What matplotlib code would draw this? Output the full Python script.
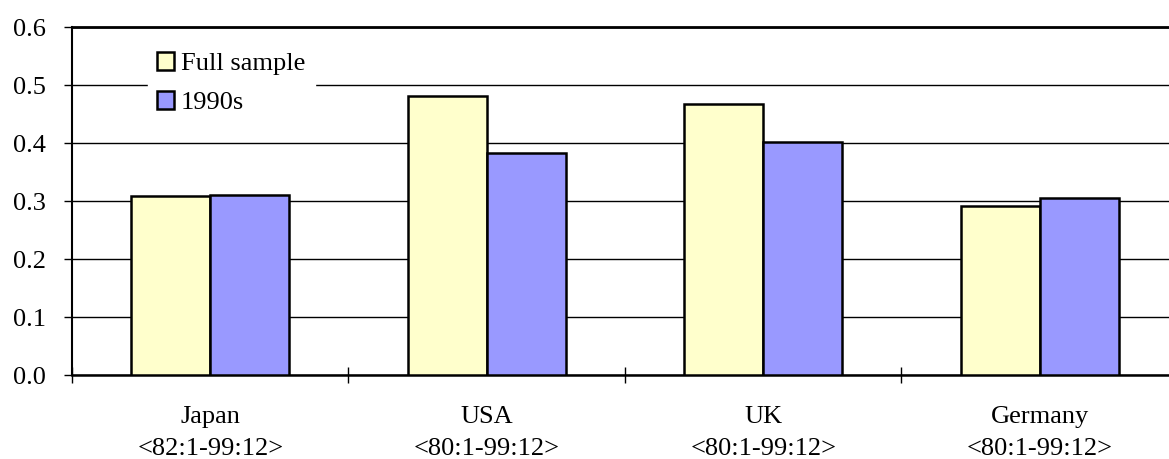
import matplotlib
matplotlib.use("Agg")
import matplotlib.pyplot as plt
import numpy as np

countries = ["Japan", "USA", "UK", "Germany"]
periods = ["<82:1-99:12>", "<80:1-99:12>", "<80:1-99:12>", "<80:1-99:12>"]
full_sample = [0.308, 0.481, 0.468, 0.292]
nineties = [0.310, 0.383, 0.402, 0.305]

plt.rcParams["font.family"] = ["Liberation Serif", "DejaVu Serif"]
FS = 19

fig = plt.figure(figsize=(11.69, 4.59), dpi=100)
ax = fig.add_axes([0.0616, 0.183, 0.946, 0.758])

x = np.arange(len(countries))
width = 0.286
ax.bar(x - width / 2, full_sample, width, color="#FFFFCC", edgecolor="black",
       linewidth=1.8, label="Full sample", zorder=3)
ax.bar(x + width / 2, nineties, width, color="#9999FF", edgecolor="black",
       linewidth=1.8, label="1990s", zorder=3)

ax.set_xlim(-0.5, len(countries) - 0.5)
ax.set_ylim(0, 0.6)
yt = np.arange(0, 0.61, 0.1)
ax.set_yticks(yt)
ax.set_yticklabels([f"{v:.1f}" for v in yt], fontsize=FS)
ax.yaxis.grid(True, color="black", linewidth=1.0, zorder=0)

# tick marks on category boundaries, names centred under each pair
ax.set_xticks(np.arange(-0.5, len(countries) - 0.4, 1.0))
ax.set_xticklabels([])
ax.tick_params(axis="x", direction="inout", length=12, width=1.0)
ax.tick_params(axis="y", direction="out", length=6, width=1.0, pad=13)
for i, (c, p) in enumerate(zip(countries, periods)):
    ax.text(i, -0.053, f"{c}\n{p}", ha="center", va="top", fontsize=FS,
            linespacing=1.62)

ax.spines["right"].set_visible(False)
ax.spines["top"].set_linewidth(2.0)
ax.spines["left"].set_linewidth(1.5)
ax.spines["bottom"].set_linewidth(1.8)

leg = ax.legend(loc="upper left", bbox_to_anchor=(0.0687, 0.955), frameon=True,
                fontsize=FS, handlelength=0.65, handleheight=0.65,
                handletextpad=0.25, labelspacing=0.62, borderpad=0.35,
                borderaxespad=0, fancybox=False)
leg.get_frame().set_edgecolor("white")
leg.get_frame().set_facecolor("white")
leg.get_frame().set_alpha(1.0)
leg.set_zorder(5)

fig.savefig("out.png", dpi=100)
